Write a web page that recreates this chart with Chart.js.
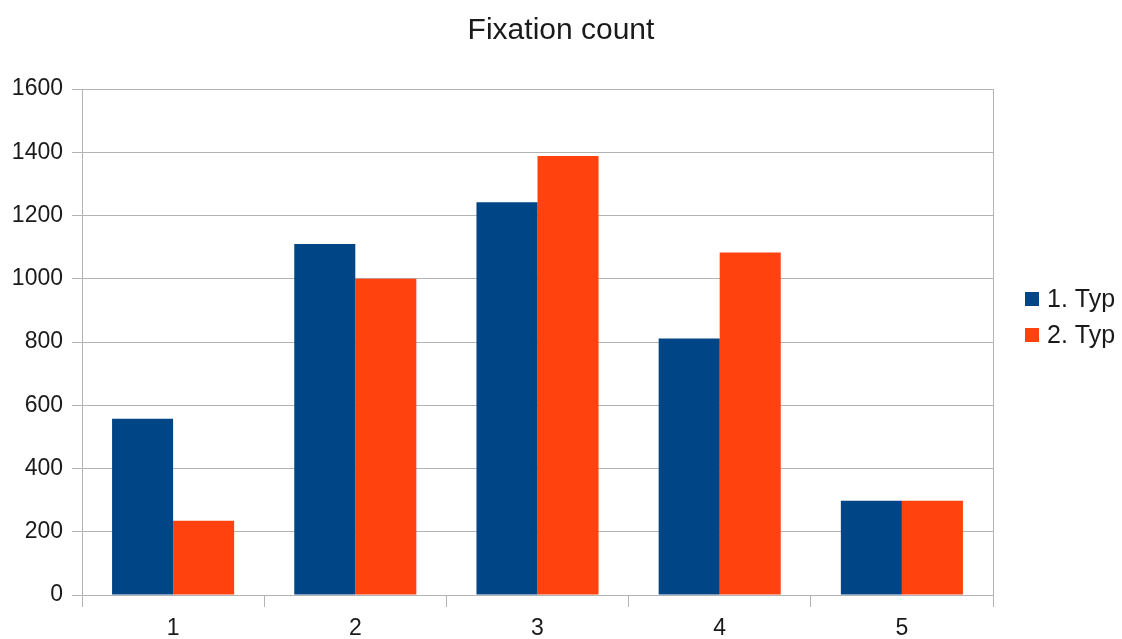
<!DOCTYPE html>
<html>
<head>
<meta charset="utf-8">
<script src="https://cdn.jsdelivr.net/npm/chart.js@4/dist/chart.umd.min.js"></script>
<style>
  html, body { margin: 0; padding: 0; background: #ffffff; }
  #wrap { width: 1122px; height: 639px; position: relative; }
</style>
</head>
<body>
<div id="wrap"><canvas id="chart"></canvas></div>
<script>
// Categories and series
const categories = ['1', '2', '3', '4', '5'];
const typ1 = [557, 1110, 1242, 811, 298];
const typ2 = [235, 1000, 1388, 1083, 298];
const seriesNames = ['1. Typ', '2. Typ'];
const yTicks = [0, 200, 400, 600, 800, 1000, 1200, 1400, 1600];

const FONT = '"Liberation Sans", Arial, sans-serif';
const GRID = '#b3b3b3';
const TEXT = '#1a1a1a';

// Legend drawn at the right of the plot
const sideLegend = {
  id: 'sideLegend',
  afterDraw(chart) {
    const c = chart.ctx;
    c.save();
    c.font = '25px ' + FONT;
    c.textBaseline = 'middle';
    c.textAlign = 'left';
    chart.data.datasets.forEach((ds, i) => {
      const cy = 299 + i * 36;
      c.fillStyle = ds.backgroundColor;
      c.fillRect(1025, cy - 7, 14, 14);
      c.fillStyle = TEXT;
      c.fillText(ds.label, 1047, cy + 1);
    });
    c.restore();
  }
};

new Chart(document.getElementById('chart'), {
  type: 'bar',
  data: {
    labels: categories,
    datasets: [
      { label: seriesNames[0], data: typ1, backgroundColor: '#004586' },
      { label: seriesNames[1], data: typ2, backgroundColor: '#ff420e' }
    ]
  },
  options: {
    responsive: true,
    maintainAspectRatio: false,
    animation: false,
    layout: { padding: 0 },
    datasets: { bar: { categoryPercentage: 0.67, barPercentage: 1.0 } },
    plugins: {
      legend: { display: false },
      tooltip: { enabled: false },
      title: {
        display: true,
        text: 'Fixation count',
        color: TEXT,
        font: { family: FONT, size: 30, weight: 'normal' },
        padding: { top: 13, bottom: 40 }
      }
    },
    scales: {
      x: {
        afterFit(scale) { scale.height = 44; },
        grid: {
          offset: true,
          drawOnChartArea: true,
          color: ctx => (ctx.type === 'scale' || ctx.index === 0) ? GRID : 'rgba(0,0,0,0)',
          tickColor: GRID,
          tickLength: 12,
          lineWidth: 1
        },
        border: { color: GRID },
        ticks: {
          color: TEXT,
          font: { family: FONT, size: 23 },
          padding: 8
        }
      },
      y: {
        min: 0,
        max: 1600,
        afterFit(scale) { scale.width = 82; },
        afterBuildTicks(scale) { scale.ticks = yTicks.map(v => ({ value: v })); },
        grid: {
          color: GRID,
          tickColor: GRID,
          tickLength: 10,
          lineWidth: 1
        },
        border: { color: GRID },
        ticks: {
          color: TEXT,
          font: { family: FONT, size: 23 },
          padding: 9,
          callback: v => String(v)
        }
      },
      // right-hand frame line; its width leaves room for the legend
      yRight: {
        position: 'right',
        min: 0,
        max: 1600,
        afterFit(scale) { scale.width = 129; },
        grid: { drawOnChartArea: false, drawTicks: false },
        border: { color: GRID },
        ticks: { display: false }
      }
    }
  },
  plugins: [sideLegend]
});
</script>
</body>
</html>
